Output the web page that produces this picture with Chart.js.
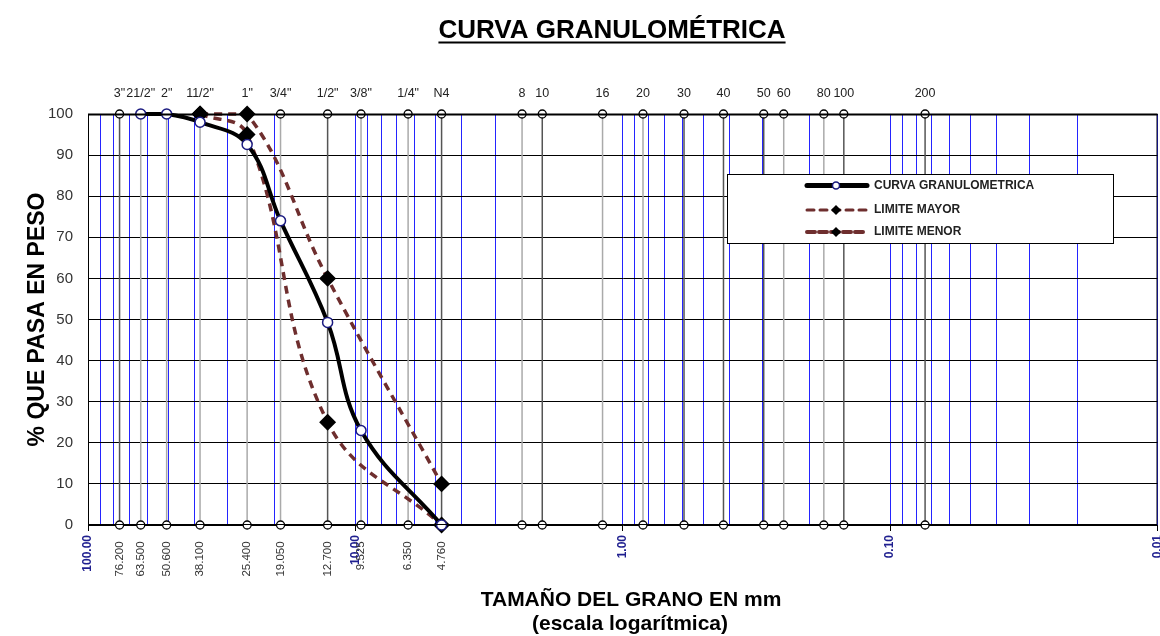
<!DOCTYPE html>
<html>
<head>
<meta charset="utf-8">
<title>Curva granulométrica</title>
<script src="https://cdn.jsdelivr.net/npm/chart.js@4.4.0/dist/chart.umd.min.js"></script>
<style>
  html, body { margin: 0; padding: 0; background: #fff; overflow: hidden; }
  canvas { display: block; }
</style>
</head>
<body>
<!-- un poco mas ancho que la ventana: el 0.01 queda cortado en el borde como en la hoja -->
<canvas id="chart" width="1167" height="636"></canvas>
<script>
// tamices (etiquetas de arriba) y su abertura en mm
const tamices = ['3"', '21/2"', '2"', '11/2"', '1"', '3/4"', '1/2"', '3/8"', '1/4"', 'N4',
  '8', '10', '16', '20', '30', '40', '50', '60', '80', '100', '200']
const aberturas = [76.2, 63.5, 50.8, 38.1, 25.4, 19.05, 12.7, 9.525, 6.35, 4.76,
  2.38, 2.0, 1.19, 0.84, 0.59, 0.42, 0.297, 0.25, 0.177, 0.149, 0.074]
// etiquetas de abajo para los primeros tamices (tal cual en la hoja)
const aberturaLabels = ['76.200', '63.500', '50.600', '38.100', '25.400', '19.050', '12.700', '9.525', '6.350', '4.760']
const tamizOscuro = [1, 0, 0, 0, 0, 0, 1, 0, 0, 1, 0, 1, 0, 0, 1, 1, 1, 0, 0, 1, 1]

// curva granulometrica
const curvaTam = [63.5, 50.8, 38.1, 25.4, 19.05, 12.7, 9.525, 4.76]
const curvaPasa = [100, 100, 98, 92.6, 74, 49.3, 23, 0]

// limites
const limiteTam = [38.1, 25.4, 12.7, 4.76]
const limiteMayor = [100, 100, 60, 10]
const limiteMenor = [100, 95, 25, 0]

// eje inferior (escala log)
const decadas = [100, 10, 1, 0.1, 0.01]
const decadaLabels = ['100.00', '10.00', '1.00', '0.10', '0.01']

const FONT = '"Liberation Sans", Arial, sans-serif'
const MARRON = '#6e2e2e'
const AZUL = '#2424ff'

// ticks del eje inferior: rejilla azul en 1..9 x 10^k, decadas con etiqueta, tamices con etiqueta
const ejeInf = []
for (let e = -2; e < 2; e++) {
  for (let m = 2; m < 10; m++) ejeInf.push({ value: m * Math.pow(10, e), label: '', kind: 'minor' })
}
decadas.forEach((d, i) => ejeInf.push({ value: d, label: decadaLabels[i], kind: 'major' }))
// los espacios al final bajan un poco el texto girado, como en la hoja
aberturaLabels.forEach((l, i) => ejeInf.push({ value: aberturas[i], label: l + '  ', kind: 'tamiz' }))

const pts = (xs, ys) => xs.map((x, i) => ({ x: x, y: ys[i] }))

const tamizData = []
aberturas.forEach(a => { tamizData.push({ x: a, y: 0 }, { x: a, y: 100 }, { x: a, y: null }) })

const textos = {
  id: 'textos',
  afterDraw(chart) {
    const c = chart.ctx
    const a = chart.chartArea
    c.save()
    c.fillStyle = '#000'
    c.textAlign = 'center'
    c.textBaseline = 'alphabetic'
    // titulo subrayado
    const titulo = 'CURVA GRANULOMÉTRICA'
    c.font = 'bold 26px ' + FONT
    c.fillText(titulo, 612, 38)
    const w = c.measureText(titulo).width
    c.fillRect(612 - w / 2, 41.5, w, 2)
    // titulo eje x
    c.font = 'bold 21px ' + FONT
    c.fillText('TAMAÑO DEL GRANO EN mm', 631, 606)
    c.fillText('(escala logarítmica)', 630, 630)
    // titulo eje y
    c.save()
    c.translate(44, (a.top + a.bottom) / 2)
    c.rotate(-Math.PI / 2)
    c.font = 'bold 23px ' + FONT
    c.fillText('% QUE PASA EN PESO', 0, 0)
    c.restore()
    // marco del area
    c.strokeStyle = '#000'
    c.lineWidth = 1
    c.strokeRect(a.left + 0.5, a.top + 0.5, a.right - a.left - 1, a.bottom - a.top - 1)
    c.lineWidth = 2
    c.beginPath(); c.moveTo(a.left, a.top + 0.5); c.lineTo(a.right, a.top + 0.5); c.stroke()

    // leyenda
    const lx = 727, ly = 174, lw = 386, lh = 69
    c.fillStyle = '#fff'
    c.fillRect(lx, ly, lw, lh)
    c.strokeStyle = '#000'
    c.lineWidth = 1
    c.strokeRect(lx + 0.5, ly + 0.5, lw, lh)
    const items = [
      { text: 'CURVA GRANULOMETRICA', y: 185.5, color: '#000', width: 5, dash: [], marker: 'circle' },
      { text: 'LIMITE MAYOR', y: 210, color: MARRON, width: 3, dash: [7, 6], marker: 'diamond' },
      { text: 'LIMITE MENOR', y: 232, color: MARRON, width: 4, dash: [8, 4], marker: 'diamond' }
    ]
    items.forEach(it => {
      c.save()
      c.strokeStyle = it.color
      c.lineWidth = it.width
      c.lineCap = 'round'
      c.setLineDash(it.dash)
      c.beginPath(); c.moveTo(807, it.y); c.lineTo(867, it.y); c.stroke()
      c.setLineDash([])
      if (it.marker === 'circle') {
        c.fillStyle = '#fff'; c.strokeStyle = '#1a1a80'; c.lineWidth = 1.5
        c.beginPath(); c.arc(836, it.y, 3.5, 0, Math.PI * 2); c.fill(); c.stroke()
      } else {
        c.fillStyle = '#000'
        c.beginPath()
        c.moveTo(836, it.y - 5); c.lineTo(841, it.y); c.lineTo(836, it.y + 5); c.lineTo(831, it.y)
        c.closePath(); c.fill()
      }
      c.restore()
      c.fillStyle = '#222'
      c.font = 'bold 12px ' + FONT
      c.textAlign = 'left'
      c.textBaseline = 'middle'
      c.fillText(it.text, 874, it.y)
    })
    c.restore()
  }
}

new Chart(document.getElementById('chart').getContext('2d'), {
  type: 'line',
  data: {
    datasets: [
      {
        label: 'CURVA GRANULOMETRICA',
        data: pts(curvaTam, curvaPasa),
        borderColor: '#000',
        borderWidth: 4,
        tension: 0.4,
        pointRadius: 5,
        pointBackgroundColor: '#fff',
        pointBorderColor: '#1a1a80',
        pointBorderWidth: 1.5,
        clip: false
      },
      {
        label: 'LIMITE MAYOR',
        data: pts(limiteTam, limiteMayor),
        borderColor: MARRON,
        borderWidth: 3.5,
        borderDash: [8, 6],
        tension: 0.4,
        pointStyle: 'rectRot',
        pointRadius: 6,
        pointBackgroundColor: '#000',
        pointBorderColor: '#000',
        clip: false
      },
      {
        label: 'LIMITE MENOR',
        data: pts(limiteTam, limiteMenor),
        borderColor: MARRON,
        borderWidth: 3.5,
        borderDash: [8, 6],
        tension: 0.4,
        pointStyle: 'rectRot',
        pointRadius: 6,
        pointBackgroundColor: '#000',
        pointBorderColor: '#000',
        clip: false
      },
      {
        label: 'tamices',
        data: tamizData,
        spanGaps: false,
        borderWidth: 1.5,
        segment: {
          borderColor: ctx => tamizOscuro[Math.floor(ctx.p0DataIndex / 3)] ? '#555' : '#aaa'
        },
        borderColor: '#888',
        pointRadius: 4,
        pointBackgroundColor: '#fff',
        pointBorderColor: '#000',
        pointBorderWidth: 1.3,
        clip: false
      }
    ]
  },
  options: {
    responsive: false,
    animation: false,
    events: [],
    layout: { padding: { top: 70, right: 0, bottom: 0, left: 0 } },
    plugins: {
      legend: { display: false },
      title: { display: false },
      tooltip: { enabled: false }
    },
    scales: {
      x: {
        type: 'logarithmic',
        position: 'bottom',
        min: 0.01,
        max: 100,
        reverse: true,
        afterBuildTicks: scale => { scale.ticks = ejeInf.map(t => ({ value: t.value })) },
        afterFit: scale => { scale.height = 111 },
        border: { display: false },
        grid: {
          color: ctx => (ejeInf[ctx.index] && ejeInf[ctx.index].kind !== 'tamiz') ? AZUL : 'rgba(0,0,0,0)',
          tickColor: ctx => (ejeInf[ctx.index] && ejeInf[ctx.index].kind === 'major') ? '#000' : 'rgba(0,0,0,0)',
          lineWidth: 1,
          tickLength: 6
        },
        ticks: {
          autoSkip: false,
          minRotation: 90,
          maxRotation: 90,
          padding: 4,
          callback: (v, i) => ejeInf[i] ? ejeInf[i].label : '',
          color: ctx => (ejeInf[ctx.index] && ejeInf[ctx.index].kind === 'major') ? '#1f1f8f' : '#333',
          font: ctx => (ejeInf[ctx.index] && ejeInf[ctx.index].kind === 'major')
            ? { family: FONT, size: 12, weight: 'bold' }
            : { family: FONT, size: 11.5 }
        }
      },
      xTop: {
        type: 'logarithmic',
        position: 'top',
        min: 0.01,
        max: 100,
        reverse: true,
        afterBuildTicks: scale => { scale.ticks = aberturas.map(a => ({ value: a })) },
        afterFit: scale => { scale.height = 44 },
        border: { display: false },
        grid: { display: false, drawTicks: false },
        ticks: {
          autoSkip: false,
          maxRotation: 0,
          minRotation: 0,
          padding: 13,
          callback: (v, i) => tamices[i],
          color: '#222',
          font: { family: FONT, size: 12.5 }
        }
      },
      y: {
        min: 0,
        max: 100,
        afterFit: scale => { scale.width = 88 },
        border: { display: true, color: '#000', width: 1 },
        grid: { color: '#000', lineWidth: 1, drawTicks: false },
        ticks: {
          stepSize: 10,
          padding: 15,
          color: '#333',
          font: { family: FONT, size: 15 }
        }
      }
    }
  },
  plugins: [textos]
})
</script>
</body>
</html>
